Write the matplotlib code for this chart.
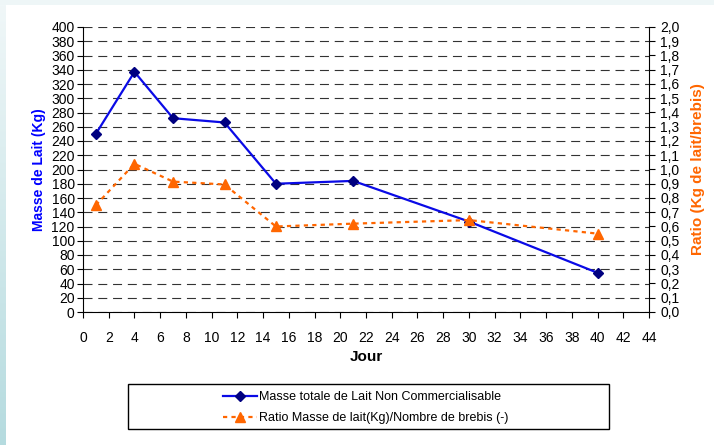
import numpy as np
import matplotlib
matplotlib.use("Agg")
import matplotlib.pyplot as plt
from matplotlib.patches import Rectangle
from matplotlib.ticker import FuncFormatter, MultipleLocator
from matplotlib.colors import LinearSegmentedColormap

plt.rcParams['font.family'] = ['Liberation Sans', 'DejaVu Sans']

jours = [1, 4, 7, 11, 15, 21, 30, 40]
masse = [250, 337, 272, 266, 180, 184, 127, 55]
ratio = [0.75, 1.04, 0.915, 0.895, 0.60, 0.62, 0.645, 0.55]
label_masse = "Masse totale de Lait Non Commercialisable"
label_ratio = "Ratio Masse de lait(Kg)/Nombre de brebis (-)"

W, H = 714, 445
fig = plt.figure(figsize=(W / 100, H / 100), dpi=100)
fig.patch.set_facecolor('white')

# decorative frame: top strip and left gradient strip
fig.patches.append(Rectangle((0, 1 - 5 / H), 1, 5 / H, transform=fig.transFigure,
                             facecolor='#eef6f7', edgecolor='none', zorder=0))
gax = fig.add_axes([0, 0, 6 / W, 1 - 5 / H])
grad = np.linspace(0, 1, 256).reshape(-1, 1)
cm = LinearSegmentedColormap.from_list('g', ['#f0f7f8', '#b5dbdf'])
gax.imshow(grad, aspect='auto', cmap=cm, origin='upper')
gax.set_axis_off()

ax = fig.add_axes([83 / W, (H - 312) / H, 566 / W, 285 / H])
ax.set_xlim(0, 44)
ax.set_ylim(0, 400)
ax.xaxis.set_major_locator(MultipleLocator(2))
ax.yaxis.set_major_locator(MultipleLocator(20))
ax.yaxis.grid(True, color='#333333', linestyle=(0, (8.1, 5.2)), linewidth=0.8)
ax.set_axisbelow(True)
ax.spines['top'].set_visible(False)
ax.spines['right'].set_visible(False)
ax.tick_params(axis='both', direction='out', length=4, width=0.8, labelsize=10, pad=2)
ax.tick_params(axis='x', pad=10)

ax.plot(jours, masse, color='#0a0ae6', lw=1.6, marker='D', markersize=5.5,
        markerfacecolor='#000080', markeredgecolor='#000080', label=label_masse, zorder=3)

ax2 = ax.twinx()
ax2.set_ylim(0, 2.0)
ax2.yaxis.set_major_locator(MultipleLocator(0.1))
ax2.yaxis.set_major_formatter(FuncFormatter(lambda v, p: f"{v:.1f}".replace('.', ',')))
ax2.tick_params(axis='y', direction='out', length=4, width=0.8, labelsize=10, pad=4)
for s in ['top', 'left', 'bottom']:
    ax2.spines[s].set_visible(False)
ax2.plot(jours, ratio, color='#ff6600', lw=1.6, linestyle=(0, (1.9, 1.9)), marker='^',
         markersize=7, markerfacecolor='#ff6600', markeredgecolor='#ff6600',
         label=label_ratio, zorder=3)

ax.set_ylabel("Masse de Lait (Kg)", color='#0000ff', fontsize=10, fontweight='bold', labelpad=4)
ax2.set_ylabel("Ratio (Kg de lait/brebis)", color='#ff6600', fontsize=11, fontweight='bold',
               rotation=90, labelpad=8)
fig.text(366 / W, 1 - 357 / H, "Jour", ha='center', va='center', fontsize=11, fontweight='bold')

# legend box
fig.patches.append(Rectangle((128 / W, 1 - 429 / H), (609 - 128) / W, (429 - 384) / H,
                             transform=fig.transFigure, facecolor='white', edgecolor='black',
                             linewidth=1.0, zorder=5))
h1, l1 = ax.get_legend_handles_labels()
h2, l2 = ax2.get_legend_handles_labels()
leg = fig.legend(h1 + h2, l1 + l2, loc='upper left', bbox_to_anchor=(213 / W, 1 - 381 / H),
                 frameon=False, fontsize=9, handlelength=2.7, handletextpad=0.15,
                 labelspacing=0.75, borderpad=0.3)
leg.set_zorder(6)

fig.savefig("out.png", dpi=100)
